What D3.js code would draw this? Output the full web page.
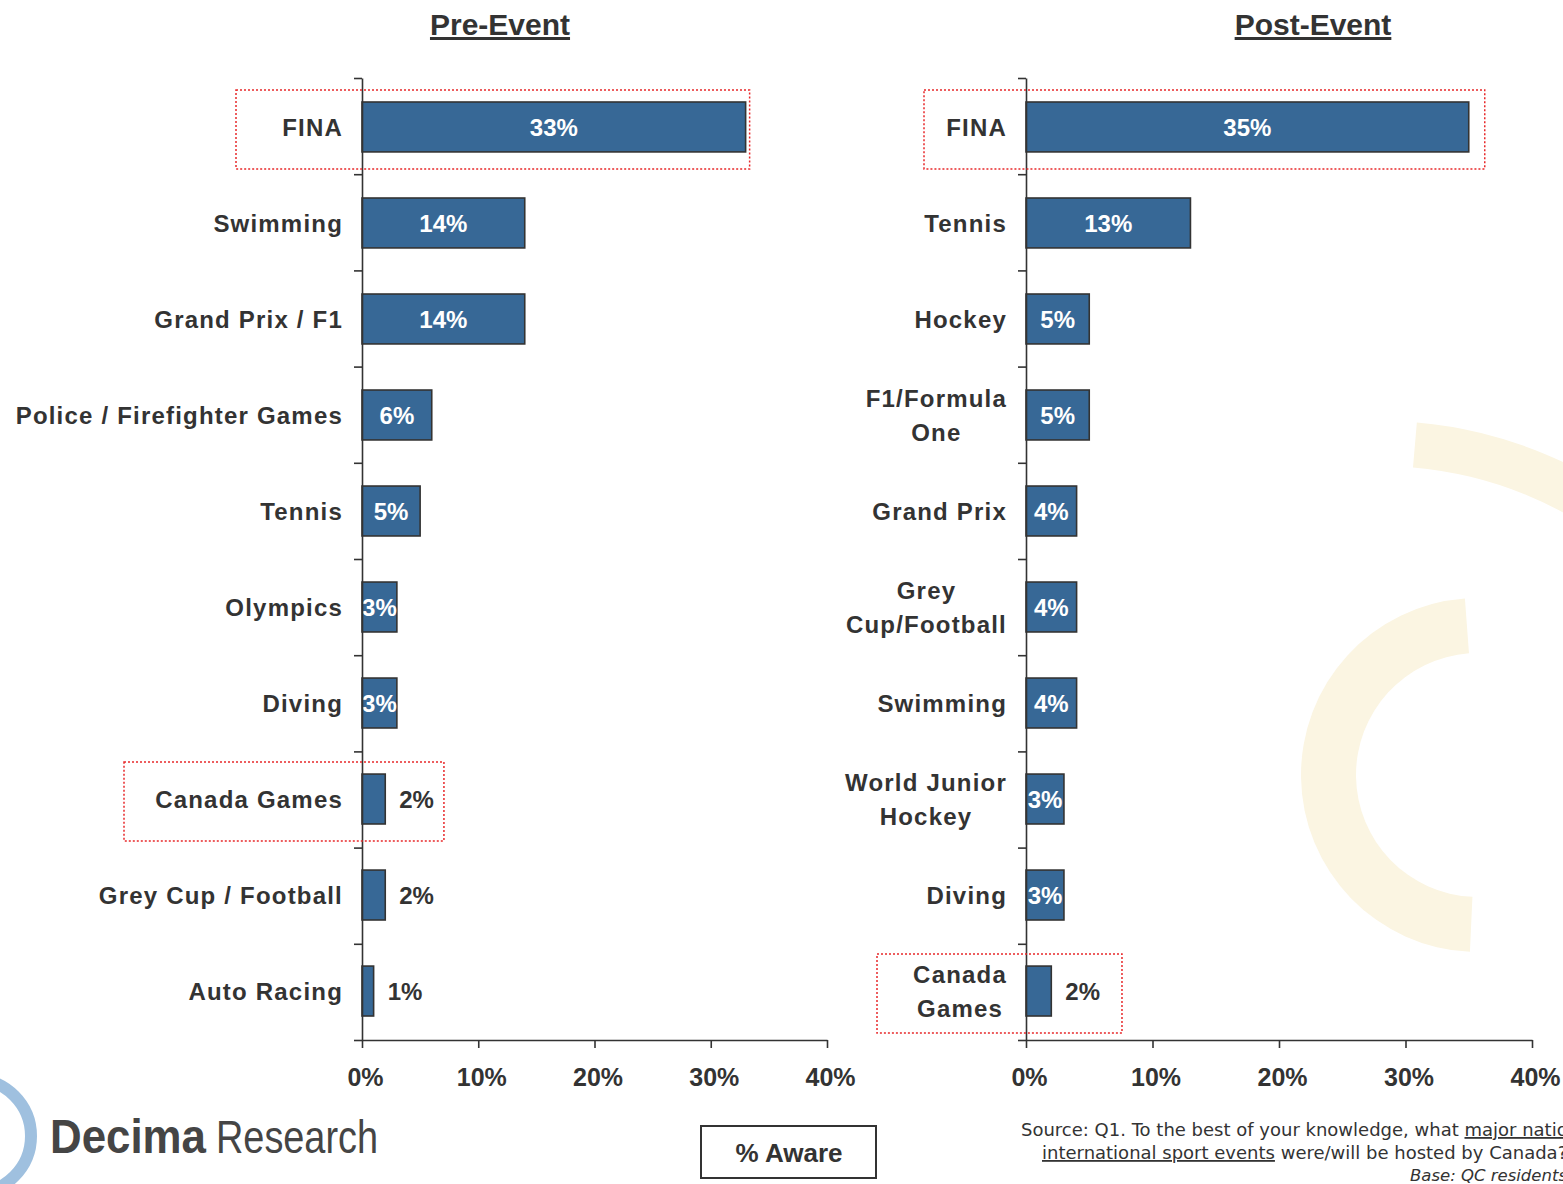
<!DOCTYPE html>
<html>
<head>
<meta charset="utf-8">
<script src="https://cdn.jsdelivr.net/npm/d3@7/dist/d3.min.js"></script>
<style>
  body { margin: 0; background: #fff; }
  svg { display: block; }
</style>
</head>
<body>
<div id="chart"></div>
<script>
// ################ DATA ################
var preCategories = ["FINA", "Swimming", "Grand Prix / F1", "Police / Firefighter Games", "Tennis",
  "Olympics", "Diving", "Canada Games", "Grey Cup / Football", "Auto Racing"];
var preValues = [33, 14, 14, 6, 5, 3, 3, 2, 2, 1];

var postCategories = ["FINA", "Tennis", "Hockey", "F1/Formula One", "Grand Prix",
  "Grey Cup/Football", "Swimming", "World Junior Hockey", "Diving", "Canada Games"];
var postLabelLines = [["FINA"], ["Tennis"], ["Hockey"], ["F1/Formula", "One"], ["Grand Prix"],
  ["Grey", "Cup/Football"], ["Swimming"], ["World Junior", "Hockey"], ["Diving"], ["Canada", "Games"]];
var postValues = [35, 13, 5, 5, 4, 4, 4, 3, 3, 2];

var xTickValues = [0, 10, 20, 30, 40];
var highlightCategories = ["FINA", "Canada Games"];

// ################ LAYOUT ################
var attrs = {
  width: 1563,
  height: 1184,
  top: 78,
  bottom: 1040,
  barColor: "#376896",
  textColor: "#333333",
  font: "'Liberation Sans', Arial, Helvetica, sans-serif"
};

var panels = [
  { title: "Pre-Event", titleX: 500, x0: 362, x1: 827, cats: preCategories, vals: preValues,
    lines: preCategories.map(function(d) { return [d]; }),
    boxes: { "FINA": [126, 4], "Canada Games": [238, 10] } },
  { title: "Post-Event", titleX: 1313, x0: 1026, x1: 1532, cats: postCategories, vals: postValues,
    lines: postLabelLines,
    boxes: { "FINA": [102, 16], "Canada Games": [149, 22] } }
];

var svg = d3.select("#chart").append("svg")
  .attr("width", attrs.width)
  .attr("height", attrs.height)
  .style("font-family", attrs.font);

// ########## background decoration (faint logo arcs) ##########
var deco = svg.append("g").attr("fill", "#fbf5e2");
deco.append("path")
  .attr("transform", "translate(1478,775)")
  .attr("d", d3.arc()({ innerRadius: 122, outerRadius: 177, startAngle: -3.096, endAngle: -0.074 }));
deco.append("path")
  .attr("transform", "translate(1380,850)")
  .attr("d", d3.arc()({ innerRadius: 384, outerRadius: 429, startAngle: 0.086, endAngle: 1.3 }));

// ########## panels ##########
panels.forEach(function(p) {
  var g = svg.append("g");

  var x = d3.scaleLinear().domain([0, 40]).range([p.x0, p.x1]);
  var y = d3.scaleBand().domain(p.cats).range([attrs.top, attrs.bottom])
    .paddingInner(0.48).paddingOuter(0.25);
  var yTicks = d3.scaleLinear().domain([0, p.cats.length]).range([attrs.top, attrs.bottom]);

  // title
  g.append("text")
    .attr("x", p.titleX).attr("y", 35)
    .attr("text-anchor", "middle")
    .attr("font-size", 30).attr("font-weight", "bold")
    .attr("fill", attrs.textColor)
    .style("text-decoration", "underline")
    .text(p.title);

  // bars
  g.selectAll(".bar").data(p.cats).enter().append("rect")
    .attr("class", "bar")
    .attr("x", x(0))
    .attr("y", function(d) { return y(d); })
    .attr("width", function(d, i) { return x(p.vals[i]) - x(0); })
    .attr("height", y.bandwidth())
    .attr("fill", attrs.barColor)
    .attr("stroke", "#333")
    .attr("stroke-width", 1.6);

  // value labels
  var valueLabels = g.selectAll(".val").data(p.cats).enter().append("text")
    .attr("class", "val")
    .attr("x", function(d, i) {
      return p.vals[i] >= 3 ? (x(0) + x(p.vals[i])) / 2 : x(p.vals[i]) + 14;
    })
    .attr("y", function(d) { return y(d) + y.bandwidth() / 2; })
    .attr("dy", "0.36em")
    .attr("text-anchor", function(d, i) { return p.vals[i] >= 3 ? "middle" : "start"; })
    .attr("font-size", 24).attr("font-weight", "bold")
    .attr("fill", function(d, i) { return p.vals[i] >= 3 ? "#fff" : attrs.textColor; })
    .text(function(d, i) { return p.vals[i] + "%"; });

  // category labels (multi-line blocks are centred, block right-aligned)
  var labelRight = p.x0 - 19;
  p.cats.forEach(function(cat, i) {
    var lines = p.lines[i];
    var t = g.append("text")
      .attr("font-size", 24).attr("font-weight", "bold")
      .attr("letter-spacing", "1.2px")
      .attr("fill", attrs.textColor);
    var cy = y(cat) + y.bandwidth() / 2;
    lines.forEach(function(line, j) {
      t.append("tspan")
        .attr("y", cy + (j - (lines.length - 1) / 2) * 34)
        .attr("dy", "0.36em")
        .text(line);
    });
    var maxW = 0;
    t.selectAll("tspan").each(function() { maxW = Math.max(maxW, this.getComputedTextLength()); });
    if (lines.length === 1) {
      t.attr("text-anchor", "end").selectAll("tspan").attr("x", labelRight);
    } else {
      t.attr("text-anchor", "middle").selectAll("tspan").attr("x", labelRight - maxW / 2);
    }
  });

  // y axis: ticks at band boundaries, no labels
  g.append("g")
    .attr("transform", "translate(" + x(0) + ",0)")
    .call(d3.axisLeft(yTicks).tickValues(d3.range(0, p.cats.length + 1)).tickSize(8).tickSizeOuter(0).tickFormat(""));

  // x axis
  g.append("g")
    .attr("transform", "translate(0," + attrs.bottom + ")")
    .call(d3.axisBottom(x).tickValues(xTickValues).tickSize(8).tickSizeOuter(0)
      .tickFormat(function(d) { return d + "%"; }))
    .call(function(a) {
      a.selectAll("text").attr("font-size", 25).attr("font-weight", "bold")
        .attr("fill", attrs.textColor).attr("y", 28).attr("dy", "0.71em").attr("dx", 3)
        .style("font-family", attrs.font);
    });

  g.selectAll(".domain, .tick line").attr("stroke", "#333").attr("stroke-width", 1.6);

  // highlight boxes
  highlightCategories.forEach(function(cat) {
    var i = p.cats.indexOf(cat);
    var pads = p.boxes[cat];
    var vNode = valueLabels.filter(function(d) { return d === cat; }).node();
    var vb = vNode.getBBox();
    var right = Math.max(x(p.vals[i]), vb.x + vb.width) + pads[1];
    var left = x(0) - pads[0];
    g.append("rect")
      .attr("x", left)
      .attr("y", y(cat) - 12)
      .attr("width", right - left)
      .attr("height", y.bandwidth() + 29)
      .attr("fill", "none")
      .attr("stroke", "#e8282a")
      .attr("stroke-width", 1.5)
      .attr("stroke-dasharray", "2,2");
  });
});

// ########## footer: logo, legend box, source ##########
svg.append("circle")
  .attr("cx", -26).attr("cy", 1136).attr("r", 57)
  .attr("fill", "none").attr("stroke", "#9fc0df").attr("stroke-width", 12);

svg.append("text")
  .attr("x", 50).attr("y", 1153)
  .attr("font-size", 48).attr("font-weight", "bold").attr("fill", "#454545")
  .attr("textLength", 156).attr("lengthAdjust", "spacingAndGlyphs")
  .text("Decima");
svg.append("text")
  .attr("x", 216).attr("y", 1153)
  .attr("font-size", 46).attr("fill", "#454545")
  .attr("textLength", 162).attr("lengthAdjust", "spacingAndGlyphs")
  .text("Research");

svg.append("rect")
  .attr("x", 701).attr("y", 1126).attr("width", 175).attr("height", 52)
  .attr("fill", "#fff").attr("stroke", "#333").attr("stroke-width", 2);
svg.append("text")
  .attr("x", 789).attr("y", 1162)
  .attr("text-anchor", "middle")
  .attr("font-size", 26).attr("font-weight", "bold").attr("fill", attrs.textColor)
  .text("% Aware");

// source note runs off the right edge, as in the original slide
var src = svg.append("g").attr("font-family", "'DejaVu Sans', sans-serif").attr("font-size", 18).attr("fill", "#333");
var l1 = src.append("text").attr("x", 1021).attr("y", 1136);
l1.append("tspan").text("Source:  Q1. To the best of your knowledge, what ");
l1.append("tspan").style("text-decoration", "underline").text("major national or");
var l2 = src.append("text").attr("x", 1042).attr("y", 1159);
l2.append("tspan").style("text-decoration", "underline").text("international sport events");
l2.append("tspan").text(" were/will be hosted by Canada?");
src.append("text").attr("x", 1410).attr("y", 1181).attr("font-size", 16.5).attr("font-style", "italic").text("Base: QC residents");
</script>
</body>
</html>
